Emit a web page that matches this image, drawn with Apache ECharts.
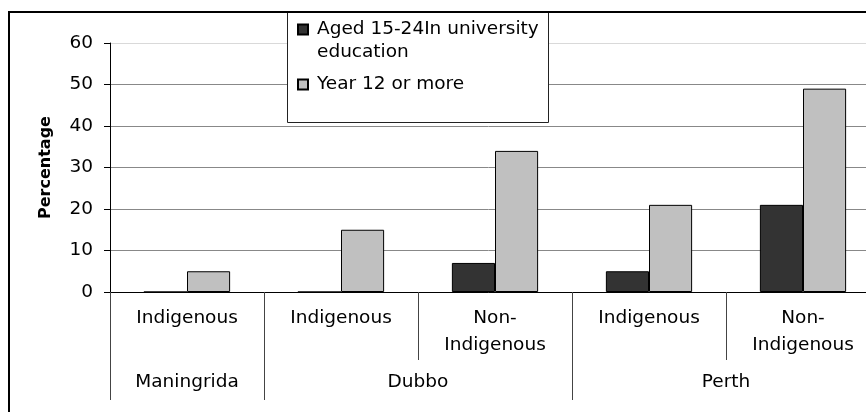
<!DOCTYPE html>
<html>
<head>
<meta charset="utf-8">
<script src="https://cdn.jsdelivr.net/npm/echarts@6/dist/echarts.min.js"></script>
<style>
  html, body { margin: 0; padding: 0; background: #fff; }
  #chart { width: 866px; height: 412px; }
</style>
</head>
<body>
<div id="chart"></div>
<script>
// Subgroups along the x axis, one bar pair each
const categories = ['Maningrida-Indigenous', 'Dubbo-Indigenous', 'Dubbo-Non-Indigenous', 'Perth-Indigenous', 'Perth-Non-Indigenous'];
const subgroupLabels = ['Indigenous', 'Indigenous', 'Non-\nIndigenous', 'Indigenous', 'Non-\nIndigenous'];
// Towns and how many subgroups each one spans
const townLabels = ['Maningrida', 'Dubbo', 'Perth'];
const townSpans = [1, 2, 2];
// Percentages
const universityAged15to24 = [0, 0, 7, 5, 21];
const year12OrMore = [5, 15, 34, 21, 49];
const yTicks = [0, 10, 20, 30, 40, 50, 60];

const seriesNames = ['Aged 15-24In university\neducation', 'Year 12 or more'];

// Town boundaries and centres in subgroup units
const townBounds = [0];
townSpans.forEach(s => townBounds.push(townBounds[townBounds.length - 1] + s));
const townCentres = townLabels.map((_, i) => (townBounds[i] + townBounds[i + 1]) / 2);

const FONT = 'DejaVu Sans';
const FS = 18.5;

// Shared legend look; the two entries are placed separately so the
// two-line entry keeps its marker level with its first line
const legendBase = {
  orient: 'vertical',
  left: 297,
  itemWidth: 10,
  itemHeight: 10,
  padding: 0,
  icon: 'rect',
  z: 20,
  textStyle: { fontFamily: FONT, fontSize: FS, color: '#000', lineHeight: 23, padding: [0, 0, 0, 4] }
};

const chart = echarts.init(document.getElementById('chart'), null, { renderer: 'canvas' });

chart.setOption({
  animation: false,
  backgroundColor: '#fff',
  grid: { left: 110, top: 43, width: 770, height: 249, containLabel: false, outerBoundsMode: 'none' },
  legend: [
    Object.assign({}, legendBase, {
      top: -5,
      data: [seriesNames[0]],
      formatter: name => '\n' + name
    }),
    Object.assign({}, legendBase, {
      top: 73,
      data: [seriesNames[1]]
    })
  ],
  graphic: [
    {
      type: 'rect', z: 100, silent: true,
      shape: { x: 9, y: 12, width: 900, height: 500 },
      style: { fill: 'none', stroke: '#000', lineWidth: 2 }
    },
    {
      type: 'rect', z: 10, silent: true,
      shape: { x: 287.5, y: 11.5, width: 261, height: 111 },
      style: { fill: '#fff', stroke: '#222', lineWidth: 1 }
    }
  ],
  xAxis: [
    {
      type: 'category',
      data: categories,
      position: 'bottom',
      axisLine: { show: true, lineStyle: { color: '#000', width: 1 } },
      axisTick: { show: true, interval: 0, length: 68, lineStyle: { color: '#444', width: 1 } },
      axisLabel: {
        interval: 0,
        margin: 13,
        fontFamily: FONT, fontSize: FS, color: '#000', lineHeight: 27,
        verticalAlign: 'top',
        formatter: (v, i) => subgroupLabels[i]
      },
      splitLine: { show: false }
    },
    {
      type: 'value',
      min: 0,
      max: categories.length,
      position: 'bottom',
      axisLine: { show: false },
      axisTick: { show: true, customValues: townBounds, length: 108, lineStyle: { color: '#444', width: 1 } },
      axisLabel: {
        customValues: townCentres,
        margin: 81,
        fontFamily: FONT, fontSize: FS, color: '#000',
        formatter: v => townLabels[townCentres.indexOf(v)] || ''
      },
      splitLine: { show: false }
    }
  ],
  yAxis: {
    type: 'value',
    min: yTicks[0],
    max: yTicks[yTicks.length - 1],
    interval: yTicks[1] - yTicks[0],
    name: 'Percentage',
    nameLocation: 'middle',
    nameGap: 56,
    nameRotate: 90,
    nameTextStyle: { fontFamily: FONT, fontSize: 16, fontWeight: 'bold', color: '#000' },
    axisLine: { show: true, lineStyle: { color: '#000', width: 1 } },
    axisTick: { show: true, length: 6, lineStyle: { color: '#000' } },
    axisLabel: { margin: 17, fontFamily: FONT, fontSize: FS, color: '#000' },
    splitLine: {
      show: true,
      lineStyle: { color: ['#888', '#888', '#888', '#888', '#888', '#888', '#d9d9d9'], width: 1 }
    }
  },
  series: [
    {
      name: seriesNames[0],
      type: 'bar',
      data: universityAged15to24,
      barWidth: '28%',
      barGap: '0%',
      itemStyle: { color: '#333333', borderColor: '#000', borderWidth: 1 }
    },
    {
      name: seriesNames[1],
      type: 'bar',
      data: year12OrMore,
      barWidth: '28%',
      barGap: '0%',
      itemStyle: { color: '#c0c0c0', borderColor: '#000', borderWidth: 1 }
    }
  ]
});
</script>
</body>
</html>
